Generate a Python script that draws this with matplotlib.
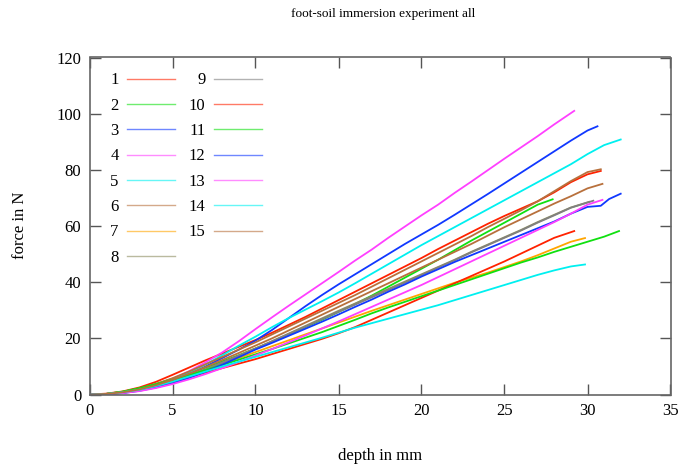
import matplotlib
matplotlib.use("Agg")
import matplotlib.pyplot as plt
from matplotlib.lines import Line2D

plt.rcParams['font.family'] = ['Liberation Serif', 'DejaVu Serif']

title = "foot-soil immersion experiment all"
xlabel = "depth in mm"
ylabel = "force in N"
xticks = [0, 5, 10, 15, 20, 25, 30, 35]
yticks = [0, 20, 40, 60, 80, 100, 120]

labels = [str(i) for i in range(1, 16)]
colors = ['#ff2200', '#10e010', '#1038ff', '#ff40ff', '#00f0f0', '#b8703c', '#ffa500', '#8c8c60',
          '#808080', '#ff2200', '#10e010', '#1038ff', '#ff40ff', '#00f0f0', '#b8703c']

x1 = [0, 1, 2, 3, 4, 5, 6, 7, 8, 9, 10, 11, 12, 13, 14, 15, 16, 17, 18, 19, 20, 21, 22, 23, 24, 25, 26, 27, 28, 29, 30, 30.8]
y1 = [0, 0.3, 1.1, 2.5, 4.5, 7.0, 9.6, 12.2, 14.6, 17.0, 19.4, 22.0, 24.8, 27.6, 30.6, 33.6, 36.6, 39.6, 42.6, 45.6, 48.6, 51.8, 54.8, 57.8, 60.8, 63.6, 66.2, 68.8, 72.0, 75.6, 78.4, 79.6]
x2 = [0, 1, 2, 3, 4, 5, 6, 7, 8, 9, 10, 11, 12, 13, 14, 15, 16, 17, 18, 19, 20, 21, 22, 23, 24, 25, 26, 27, 27.9]
y2 = [0, 0.2, 1.0, 2.2, 3.8, 5.6, 7.6, 9.6, 11.8, 14.0, 16.4, 18.8, 21.4, 24.0, 26.6, 29.4, 32.2, 35.2, 38.4, 41.6, 44.8, 48.0, 51.4, 54.8, 58.0, 61.2, 64.4, 67.6, 69.5]
x3 = [0, 1, 2, 3, 4, 5, 6, 7, 8, 9, 10, 11, 12, 13, 14, 15, 16, 17, 18, 19, 20, 21, 22, 23, 24, 25, 26, 27, 28, 29, 30, 30.6]
y3 = [0, 0.1, 0.6, 1.5, 2.9, 4.8, 7.2, 10.0, 13.0, 16.0, 19.2, 23.0, 27.2, 31.4, 35.4, 39.2, 42.8, 46.4, 50.0, 53.6, 57.0, 60.4, 64.0, 67.7, 71.4, 75.2, 79.0, 82.8, 86.6, 90.4, 94.0, 95.5]
x4 = [0, 1, 2, 3, 4, 5, 6, 7, 8, 9, 10, 11, 12, 13, 14, 15, 16, 17, 18, 19, 20, 21, 22, 23, 24, 25, 26, 27, 28, 29, 29.2]
y4 = [0, 0.2, 0.8, 1.8, 3.4, 5.6, 8.3, 11.5, 15.0, 19.0, 23.3, 27.5, 31.6, 35.6, 39.6, 43.6, 47.7, 51.6, 55.8, 59.8, 63.8, 67.6, 71.8, 75.8, 79.9, 84.0, 88.0, 92.0, 96.2, 100.2, 101.0]
x5 = [0, 1, 2, 3, 4, 5, 6, 7, 8, 9, 10, 11, 12, 13, 14, 15, 16, 17, 18, 19, 20, 21, 22, 23, 24, 25, 26, 27, 28, 29, 30, 31, 32.0]
y5 = [0, 0.2, 0.8, 1.8, 3.3, 5.3, 7.8, 10.7, 14.0, 17.4, 20.6, 24.0, 27.2, 30.2, 33.2, 36.3, 39.6, 43.0, 46.4, 49.8, 53.2, 56.4, 59.6, 62.8, 66.0, 69.2, 72.4, 75.6, 78.8, 82.0, 85.6, 88.8, 90.8]
x6 = [0, 1, 2, 3, 4, 5, 6, 7, 8, 9, 10, 11, 12, 13, 14, 15, 16, 17, 18, 19, 20, 21, 22, 23, 24, 25, 26, 27, 28, 29, 30, 30.8]
y6 = [0, 0.2, 0.9, 2.0, 3.7, 5.8, 8.2, 10.8, 13.4, 16.0, 18.6, 21.4, 24.2, 27.0, 29.8, 32.6, 35.4, 38.4, 41.4, 44.4, 47.4, 50.4, 53.4, 56.4, 59.6, 62.6, 65.6, 68.8, 72.4, 76.0, 79.2, 80.2]
x7 = [0, 1, 2, 3, 4, 5, 6, 7, 8, 9, 10, 11, 12, 13, 14, 15, 16, 17, 18, 19, 20, 21, 22, 23, 24, 25, 26, 27, 28, 29, 29.85]
y7 = [0, 0.2, 0.9, 2.0, 3.4, 5.0, 6.8, 8.8, 10.9, 13.0, 15.1, 17.2, 19.3, 21.4, 23.5, 25.6, 27.7, 29.8, 31.8, 33.8, 35.8, 37.8, 39.8, 41.6, 43.4, 45.4, 47.4, 49.6, 52.0, 54.4, 55.7]
x8 = [0, 1, 2, 3, 4, 5, 6, 7, 8, 9, 10, 11, 12, 13, 14, 15, 16, 17, 18, 19, 20, 21, 22, 23, 24, 25, 26, 27, 28, 29, 30.1]
y8 = [0, 0.1, 0.6, 1.6, 3.0, 4.8, 6.8, 9.0, 11.4, 13.9, 16.4, 19.0, 21.7, 24.4, 27.1, 29.8, 32.4, 35.0, 37.6, 40.2, 42.8, 45.4, 48.0, 50.8, 53.4, 56.0, 58.6, 61.4, 64.0, 66.6, 68.6]
x9 = [0, 1, 2, 3, 4, 5, 6, 7, 8, 9, 10, 11, 12, 13, 14, 15, 16, 17, 18, 19, 20, 21, 22, 23, 24, 25, 26, 27, 28, 29, 30.35]
y9 = [0, 0.1, 0.6, 1.5, 2.8, 4.5, 6.6, 8.9, 11.3, 13.8, 16.3, 18.9, 21.5, 24.1, 26.8, 29.4, 32.0, 34.6, 37.2, 39.8, 42.5, 45.2, 47.8, 50.6, 53.2, 55.8, 58.4, 61.2, 63.8, 66.5, 69.0]
x10 = [0, 1, 2, 3, 4, 5, 6, 7, 8, 9, 10, 11, 12, 13, 14, 15, 16, 17, 18, 19, 20, 21, 22, 23, 24, 25, 26, 27, 28, 29.2]
y10 = [0, 0.2, 0.8, 1.8, 3.1, 4.6, 6.2, 7.8, 9.4, 11.0, 12.6, 14.4, 16.2, 18.0, 19.8, 21.8, 24.0, 26.6, 29.2, 31.8, 34.4, 37.0, 39.6, 42.2, 44.8, 47.4, 50.2, 53.0, 55.8, 58.2]
x11 = [0, 1, 2, 3, 4, 5, 6, 7, 8, 9, 10, 11, 12, 13, 14, 15, 16, 17, 18, 19, 20, 21, 22, 23, 24, 25, 26, 27, 28, 29, 30, 31, 31.9]
y11 = [0, 0.2, 1.0, 2.2, 3.6, 5.2, 6.9, 8.7, 10.5, 12.4, 14.3, 16.2, 18.2, 20.2, 22.2, 24.4, 26.6, 28.9, 31.0, 33.0, 35.0, 37.0, 39.0, 41.0, 43.0, 45.0, 47.0, 48.8, 50.8, 52.6, 54.4, 56.2, 58.2]
x12 = [0, 1, 2, 3, 4, 5, 6, 7, 8, 9, 10, 11, 12, 13, 14, 15, 16, 17, 18, 19, 20, 21, 22, 23, 24, 25, 26, 27, 28, 29, 30, 30.8, 31.3, 32.0]
y12 = [0, 0.1, 0.5, 1.3, 2.5, 4.0, 5.9, 8.1, 10.6, 13.3, 16.0, 18.4, 20.9, 23.4, 25.9, 28.5, 31.2, 33.8, 36.6, 39.2, 42.0, 44.6, 47.2, 49.6, 52.0, 54.4, 56.8, 59.2, 61.6, 64.4, 66.8, 67.2, 69.6, 71.5]
x13 = [0, 1, 2, 3, 4, 5, 6, 7, 8, 9, 10, 11, 12, 13, 14, 15, 16, 17, 18, 19, 20, 21, 22, 23, 24, 25, 26, 27, 28, 29, 30, 30.9]
y13 = [0, 0.1, 0.5, 1.2, 2.3, 3.7, 5.4, 7.3, 9.4, 11.6, 13.9, 16.2, 18.6, 21.0, 23.5, 26.0, 28.6, 31.2, 33.8, 36.4, 39.0, 41.8, 44.6, 47.4, 50.2, 53.0, 55.8, 58.6, 61.4, 64.4, 67.6, 69.3]
x14 = [0, 1, 2, 3, 4, 5, 6, 7, 8, 9, 10, 11, 12, 13, 14, 15, 16, 17, 18, 19, 20, 21, 22, 23, 24, 25, 26, 27, 28, 29, 29.85]
y14 = [0, 0.2, 0.8, 1.7, 3.0, 4.6, 6.4, 8.2, 10.0, 11.7, 13.4, 15.1, 16.8, 18.5, 20.2, 22.0, 23.8, 25.4, 27.0, 28.6, 30.2, 31.8, 33.6, 35.4, 37.2, 39.0, 40.8, 42.6, 44.2, 45.6, 46.3]
x15 = [0, 1, 2, 3, 4, 5, 6, 7, 8, 9, 10, 11, 12, 13, 14, 15, 16, 17, 18, 19, 20, 21, 22, 23, 24, 25, 26, 27, 28, 29, 30, 30.9]
y15 = [0, 0.2, 0.8, 1.8, 3.3, 5.2, 7.4, 9.8, 12.3, 14.8, 17.4, 20.0, 22.8, 25.6, 28.4, 31.2, 34.0, 36.8, 39.6, 42.4, 45.2, 48.0, 50.8, 53.6, 56.6, 59.6, 62.4, 65.2, 68.0, 70.6, 73.4, 75.0]

xs = [x1, x2, x3, x4, x5, x6, x7, x8, x9, x10, x11, x12, x13, x14, x15]
ys = [y1, y2, y3, y4, y5, y6, y7, y8, y9, y10, y11, y12, y13, y14, y15]

fig = plt.figure(figsize=(6.81, 4.65), dpi=100)
ax = fig.add_axes([89.5 / 681, 1 - 394.5 / 465, (670.5 - 89.5) / 681, (394.5 - 57.5) / 465])

for x, y, c in zip(xs, ys, colors):
    ax.plot(x, y, color=c, lw=1.3)

ax.set_xlim(0, 35)
ax.set_ylim(0, 120)
ax.set_xticks(xticks)
ax.set_yticks(yticks)
ax.tick_params(direction='in', length=8, width=1, colors='#555555', labelcolor='black',
               labelsize=12, top=True, right=True, pad=6)
for s in ax.spines.values():
    s.set_color('#666666')
    s.set_linewidth(1.2)

handles = [Line2D([0], [0], color=c, lw=1, alpha=0.6) for c in colors]
leg = ax.legend(handles, labels, ncol=2, loc='upper left', bbox_to_anchor=(0.01, 1.0),
                frameon=False, fontsize=12, markerfirst=False, handlelength=2.9,
                handletextpad=0.5, columnspacing=0.8, labelspacing=0.56)

fig.text(383 / 681, 1 - 14 / 465, title, ha='center', va='center', fontsize=9.5)
fig.text(380 / 681, 1 - 456 / 465, xlabel, ha='center', va='center', fontsize=12)
fig.text(20 / 681, 1 - 225 / 465, ylabel, ha='center', va='center', rotation=90, fontsize=12)

fig.savefig('out.png', dpi=100)
